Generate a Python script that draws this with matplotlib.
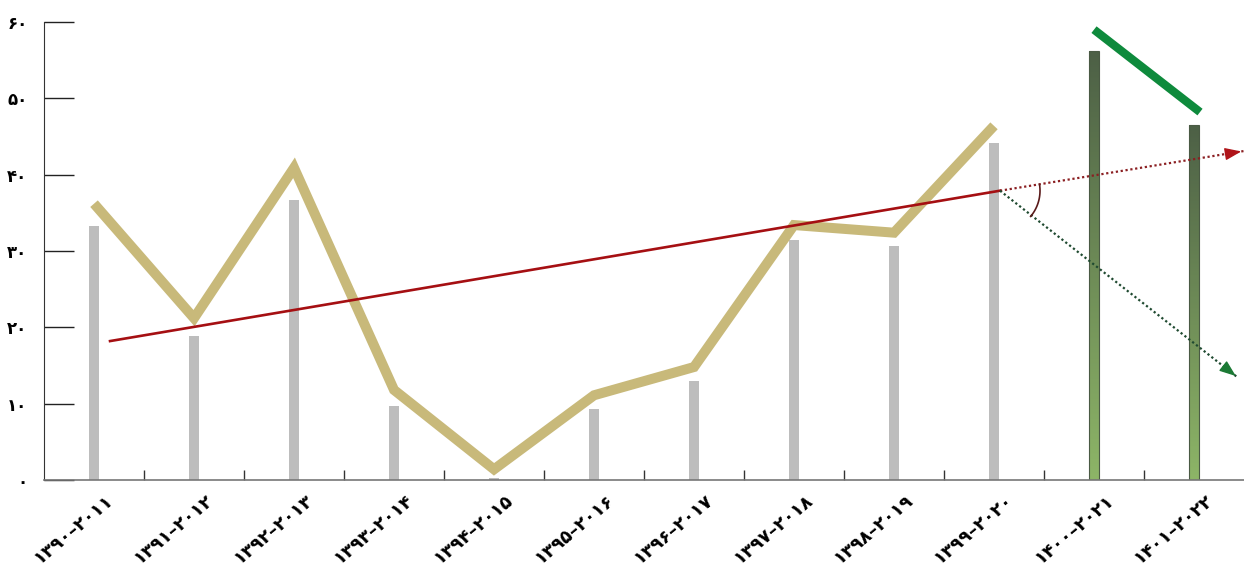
import numpy as np
import matplotlib
matplotlib.use("Agg")
import matplotlib.pyplot as plt
import matplotlib.transforms as mtrans

# data
labels = ["۱۳۹۰–۲۰۱۱", "۱۳۹۱–۲۰۱۲", "۱۳۹۲–۲۰۱۳", "۱۳۹۳–۲۰۱۴", "۱۳۹۴–۲۰۱۵", "۱۳۹۵–۲۰۱۶",
          "۱۳۹۶–۲۰۱۷", "۱۳۹۷–۲۰۱۸", "۱۳۹۸–۲۰۱۹", "۱۳۹۹–۲۰۲۰", "۱۴۰۰–۲۰۲۱", "۱۴۰۱–۲۰۲۲"]
bar_values = [33.3, 18.9, 36.7, 9.7, 0.3, 9.3, 13.0, 31.5, 30.7, 44.2, 56.2, 46.5]
line_values = [36.2, 21.2, 40.9, 11.8, 1.4, 11.1, 14.8, 33.4, 32.4, 46.4]
trend_x = [0.16, 9.06]
trend_y = [18.2, 37.9]
up_arrow_end = [11.5, 43.1]
down_arrow_end = [11.44, 13.4]
forecast_x = [10.0, 11.06]
forecast_y = [59.0, 48.2]
yticks = [0, 10, 20, 30, 40, 50, 60]
ytick_labels = ["۰", "۱۰", "۲۰", "۳۰", "۴۰", "۵۰", "۶۰"]

fig = plt.figure(figsize=(12.44, 5.73), dpi=100)
ax = fig.add_axes([0.0354, 0.1623, 0.9646, 0.7993])

x = np.arange(len(labels))
bw = 0.1
n_hist = len(line_values)

# gray bars
ax.bar(x[:n_hist], bar_values[:n_hist], width=bw, color="#bdbdbd", zorder=2)

# green gradient bars for the last two
grad = np.linspace(0, 1, 256).reshape(-1, 1)
cmap = matplotlib.colors.LinearSegmentedColormap.from_list("g", ["#8db567", "#4d6046"])
for xi, v in zip(x[n_hist:], bar_values[n_hist:]):
    ax.imshow(grad, extent=[xi - bw / 2, xi + bw / 2, 0, v], origin="lower",
              cmap=cmap, aspect="auto", zorder=2)
    ax.add_patch(plt.Rectangle((xi - bw / 2, 0), bw, v, fill=False,
                               edgecolor="#4a5a44", lw=0.8, zorder=2))

# tan line
ax.plot(x[:n_hist], line_values, color="#c8b97a", lw=7.2,
        solid_joinstyle="miter", solid_capstyle="butt", zorder=3)

# trend line
ax.plot(trend_x, trend_y, color="#a50f12", lw=1.9, zorder=4)

# dotted projections
sx, sy = trend_x[1], trend_y[1]
ax.plot([sx, up_arrow_end[0]], [sy, up_arrow_end[1]], color="#8b1f22", lw=1.6,
        ls=(0, (1, 1.2)), zorder=4, clip_on=False)
ax.plot([sx, down_arrow_end[0]], [sy, down_arrow_end[1]], color="#1f4a30", lw=1.6,
        ls=(0, (1, 1.2)), zorder=4, clip_on=False)
for (ex, ey), c in [(up_arrow_end, "#b01419"), (down_arrow_end, "#1c7a35")]:
    ax.annotate("", xy=(ex, ey), xytext=(ex - (ex - sx) * 0.06, ey - (ey - sy) * 0.06),
                arrowprops=dict(arrowstyle="-|>,head_length=1.0,head_width=0.38",
                                color=c, lw=1), annotation_clip=False, zorder=5)

# angle arc between the two projections (drawn in screen-like proportions)
t = np.radians(np.linspace(-40, 9, 40))
ax.plot(sx + 0.4 * np.cos(t), sy + 0.4 * 100 / 7.63 * np.sin(t),
        color="#5a1a1a", lw=1.2, zorder=5)

# forecast segment
ax.plot(forecast_x, forecast_y, color="#0e8a3c", lw=6, solid_capstyle="butt",
        zorder=5, clip_on=False)

ax.set_xlim(-0.5, 11.5)
ax.set_ylim(0, 60)
for s in ["top", "right"]:
    ax.spines[s].set_visible(False)
ax.spines["left"].set_color("#333333")
ax.spines["bottom"].set_color("#777777")
ax.spines["bottom"].set_linewidth(1.2)

ax.set_yticks(yticks)
ax.set_yticklabels(ytick_labels, fontsize=12, fontweight="bold")
ax.tick_params(axis="y", direction="in", length=21.6, width=1, color="#222222", pad=12)

ax.set_xticks(x)
ax.set_xticklabels(labels, rotation=40, ha="right", va="top", rotation_mode="anchor",
                   fontsize=13, fontweight="bold")
ax.set_xticks(x[:-1] + 0.5, minor=True)
ax.tick_params(axis="x", which="major", length=0, pad=8)
ax.tick_params(axis="x", which="minor", direction="in", length=7, width=1, color="#333333")
offset = mtrans.ScaledTranslation(8 / 72, 0, fig.dpi_scale_trans)
for lab in ax.get_xticklabels():
    lab.set_transform(lab.get_transform() + offset)

fig.savefig("out.png", dpi=100, facecolor="white")
